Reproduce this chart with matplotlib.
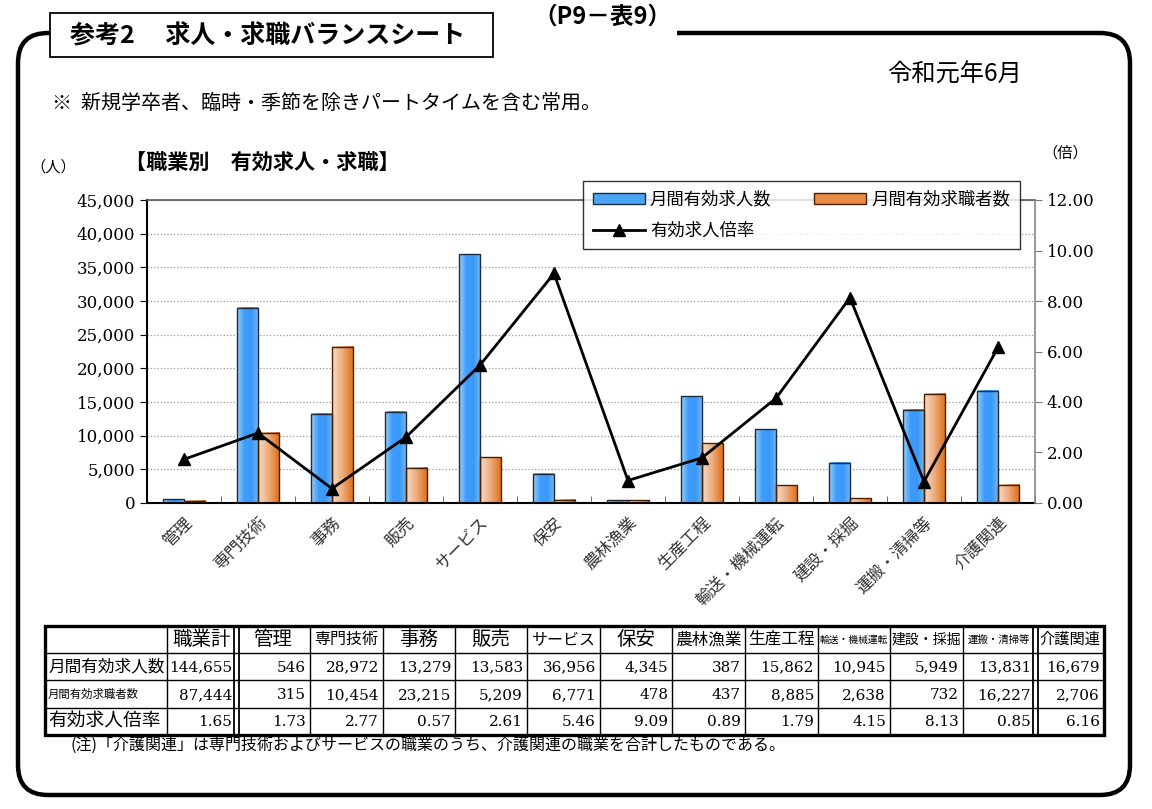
import numpy as np
import matplotlib.pyplot as plt
from matplotlib.patches import Rectangle, FancyBboxPatch, Patch
from matplotlib.lines import Line2D
from matplotlib.colors import LinearSegmentedColormap
from matplotlib.ticker import FuncFormatter, MultipleLocator

plt.rcParams['font.family'] = ['Noto Sans CJK JP', 'DejaVu Sans']
SERIF = ['DejaVu Serif', 'Noto Sans CJK JP']

# data
categories = ['管理', '専門技術', '事務', '販売', 'サービス', '保安', '農林漁業',
              '生産工程', '輸送・機械運転', '建設・採掘', '運搬・清掃等', '介護関連']
openings = [546, 28972, 13279, 13583, 36956, 4345, 387, 15862, 10945, 5949, 13831, 16679]
seekers = [315, 10454, 23215, 5209, 6771, 478, 437, 8885, 2638, 732, 16227, 2706]
ratio = [1.73, 2.77, 0.57, 2.61, 5.46, 9.09, 0.89, 1.79, 4.15, 8.13, 0.85, 6.16]
total_label = '職業計'
total_openings = 144655
total_seekers = 87444
total_ratio = 1.65
row_labels = ['月間有効求人数', '月間有効求職者数', '有効求人倍率']

W, H = 1152, 809
fig = plt.figure(figsize=(W / 100, H / 100), dpi=100)

# background layer in pixel coords (y downwards)
bg = fig.add_axes([0, 0, 1, 1])
bg.set_xlim(0, W)
bg.set_ylim(H, 0)
bg.axis('off')

frame = FancyBboxPatch((18, 33), 1112, 762, boxstyle='round,pad=0,rounding_size=30',
                       fc='none', ec='black', lw=3.2)
bg.add_patch(frame)
bg.add_patch(Rectangle((493, 26), 184, 14, fc='white', ec='none', zorder=3))
bg.add_patch(Rectangle((50, 13), 443, 44, fc='white', ec='black', lw=1.3, zorder=4))
bg.text(70, 36, '参考2　 求人・求職バランスシート', fontsize=18, fontweight='bold',
        va='center', ha='left', zorder=5)
bg.text(602, 17, '（P9－表9）', fontsize=17, fontweight='bold', va='center', ha='center')
bg.text(1022, 75, '令和元年6月', fontsize=17.5, va='center', ha='right')
bg.text(52, 103, '※  新規学卒者、臨時・季節を除きパートタイムを含む常用。', fontsize=14.4,
        va='center', ha='left')
bg.text(125, 163, '【職業別　有効求人・求職】', fontsize=15.2, fontweight='bold',
        va='center', ha='left')
bg.text(30, 167, '（人）', fontsize=11, va='center', ha='left')
bg.text(1042, 153, '（倍）', fontsize=11, va='center', ha='left')

# table
col_edges = [45, 167, 236, 310, 383, 455, 527, 600, 672, 745, 818, 890, 963, 1035, 1104]
row_edges = [626, 653, 680, 708, 735]
headers = [total_label] + categories
header_sizes = [14, 14, 11.5, 14, 14, 11.5, 14, 12, 12, 7, 10, 7.5, 11]
label_sizes = [12, 8.2, 13.5]
rows = [[total_openings] + openings, [total_seekers] + seekers, [total_ratio] + ratio]

for y in row_edges[1:-1]:
    bg.plot([col_edges[0], col_edges[-1]], [y, y], color='black', lw=1)
for i, x in enumerate(col_edges[1:-1], start=1):
    if i in (2, 13):
        for dx in (-2.5, 2.5):
            bg.plot([x + dx, x + dx], [row_edges[0], row_edges[-1]], color='black', lw=1.3)
    else:
        bg.plot([x, x], [row_edges[0], row_edges[-1]], color='black', lw=1)
bg.add_patch(Rectangle((col_edges[0], row_edges[0]), col_edges[-1] - col_edges[0],
                       row_edges[-1] - row_edges[0], fc='none', ec='black', lw=2.4))

for j, lab in enumerate(headers):
    xc = (col_edges[j + 1] + col_edges[j + 2]) / 2
    bg.text(xc, (row_edges[0] + row_edges[1]) / 2, lab, fontsize=header_sizes[j],
            ha='center', va='center')
for r, lab in enumerate(row_labels):
    yc = (row_edges[r + 1] + row_edges[r + 2]) / 2
    bg.text(col_edges[0] + 3, yc, lab, fontsize=label_sizes[r], ha='left', va='center')
    for j, v in enumerate(rows[r]):
        s = f'{v:.2f}' if r == 2 else f'{v:,}'
        bg.text(col_edges[j + 2] - 4, yc + 1, s, fontsize=11, family=SERIF,
                ha='right', va='center')

bg.text(70, 745, '(注)「介護関連」は専門技術およびサービスの職業のうち、介護関連の職業を合計したものである。',
        fontsize=11.5, ha='left', va='center')

# chart
ax = fig.add_axes([147 / W, 1 - 503 / H, (1035 - 147) / W, (503 - 200) / H])
x = np.arange(len(categories))
bw = 0.29
b1 = ax.bar(x - bw / 2, openings, bw, fc='none', ec='#1d2d3d', lw=1, zorder=3)
b2 = ax.bar(x + bw / 2, seekers, bw, fc='none', ec='#4a2000', lw=1, zorder=3)

blue_cm = LinearSegmentedColormap.from_list('b', ['#9ed0f2', '#3d9dff', '#3a98f8', '#79baf0'])
orange_cm = LinearSegmentedColormap.from_list('o', ['#f6dccb', '#ecaa78', '#de6a14'])
grad = np.linspace(0, 1, 64).reshape(1, -1)
for bars, cm in ((b1, blue_cm), (b2, orange_cm)):
    for b in bars:
        x0, w, h = b.get_x(), b.get_width(), b.get_height()
        ax.imshow(grad, cmap=cm, aspect='auto', extent=(x0, x0 + w, 0, h), zorder=2.5)

ax.set_xlim(-0.5, len(categories) - 0.5)
ax.set_ylim(0, 45000)
ax.yaxis.set_major_locator(MultipleLocator(5000))
ax.yaxis.set_major_formatter(FuncFormatter(lambda v, p: f'{int(v):,}'))
ax.grid(axis='y', color='#999999', ls=':', lw=0.9)
ax.set_axisbelow(True)
ax.set_xticks(x)
ax.set_xticklabels(categories, rotation=45, ha='right', rotation_mode='anchor',
                   fontsize=12, color='#333333')
ax.set_xticks(np.arange(len(categories) + 1) - 0.5, minor=True)
ax.tick_params(axis='x', which='major', length=0, pad=8)
ax.tick_params(axis='x', which='minor', direction='in', length=5, color='#555555')
ax.tick_params(axis='y', length=5, labelsize=12)
for t in ax.get_yticklabels():
    t.set_family(SERIF)
ax.spines['left'].set_linewidth(1.5)
ax.spines['bottom'].set_linewidth(1.5)
ax.spines['top'].set_color('#555555')
ax.spines['top'].set_linewidth(1.2)
ax.spines['right'].set_visible(False)

ax2 = ax.twinx()
ax2.plot(x, ratio, color='black', lw=2, marker='^', ms=9, zorder=5)
ax2.set_ylim(0, 12)
ax2.yaxis.set_major_locator(MultipleLocator(2))
ax2.yaxis.set_major_formatter(FuncFormatter(lambda v, p: f'{v:.2f}'))
ax2.tick_params(axis='y', length=5, labelsize=12, color='#777777')
for t in ax2.get_yticklabels():
    t.set_family(SERIF)
ax2.spines['right'].set_color('#888888')
ax2.spines['right'].set_linewidth(1.2)
for s in ('left', 'top', 'bottom'):
    ax2.spines[s].set_visible(False)

handles = [Patch(fc='#4aa6f5', ec='#1d2d3d'), Line2D([], [], color='black', lw=2, marker='^', ms=8),
           Patch(fc='#e98a45', ec='#4a2000')]
labels = ['月間有効求人数', '有効求人倍率', '月間有効求職者数']
leg = fig.legend(handles, labels, loc='upper left', ncol=2, mode='expand',
                 bbox_to_anchor=(583 / W, 1 - 181 / H, 437 / W, 0), fontsize=12.5,
                 frameon=True, fancybox=False, edgecolor='black', handlelength=3.0,
                 handleheight=0.6, borderpad=0.55, labelspacing=0.75, handletextpad=0.3,
                 borderaxespad=0)
leg.get_frame().set_linewidth(1)
leg.set_zorder(10)

fig.savefig('out.png', dpi=100)
